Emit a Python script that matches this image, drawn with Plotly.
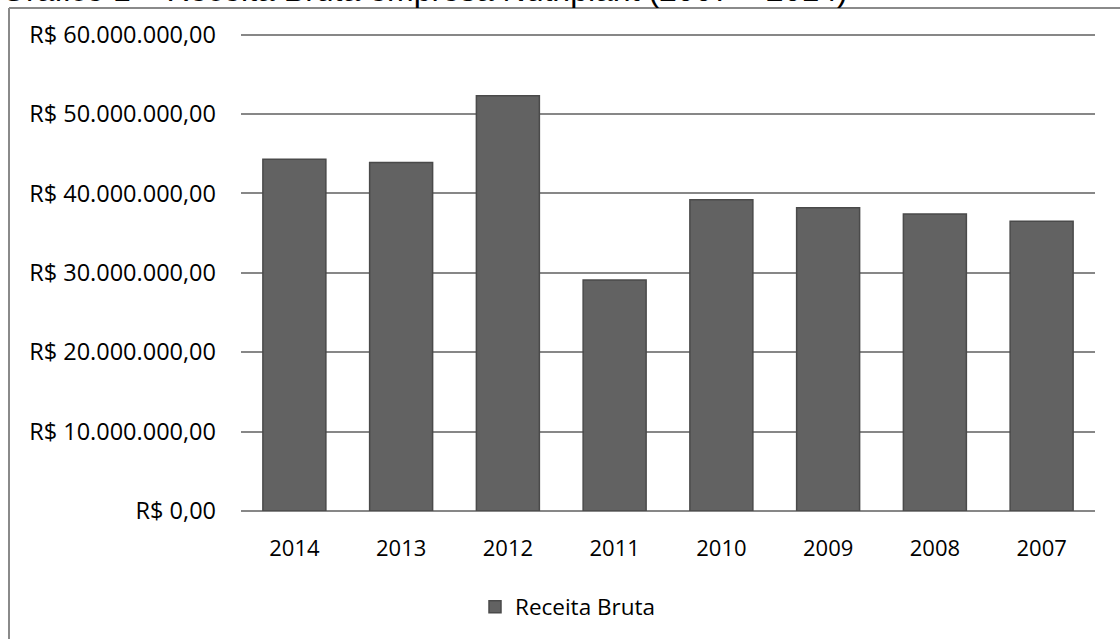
import plotly.graph_objects as go

# Receita bruta anual da empresa (R$)
anos = ["2014", "2013", "2012", "2011", "2010", "2009", "2008", "2007"]
receita_bruta = [44.3e6, 43.9e6, 52.3e6, 29.1e6, 39.2e6, 38.2e6, 37.4e6, 36.5e6]

tick_vals = [0, 10e6, 20e6, 30e6, 40e6, 50e6, 60e6]
tick_text = ["R$ 0,00", "R$ 10.000.000,00", "R$ 20.000.000,00", "R$ 30.000.000,00",
             "R$ 40.000.000,00", "R$ 50.000.000,00", "R$ 60.000.000,00"]

W, H = 1120, 639
L, R, T, B = 241, 25, 33, 127
pw, ph = W - L - R, H - T - B

def px_x(x):
    return (x - L) / pw

def px_y(y):
    return (H - B - y) / ph

fig = go.Figure()
fig.add_trace(go.Bar(
    x=anos, y=receita_bruta, name="Receita Bruta",
    marker=dict(color="#626262", line=dict(color="#4a4a4a", width=1.5)),
))

family = "Open Sans, Noto Sans, sans-serif"
ytick_font = dict(family=family, size=23.5, color="#000000")
xtick_font = dict(family=family, size=22, color="#000000")
legend_font = dict(family=family, size=22.5, color="#000000")

fig.update_layout(
    width=W, height=H,
    margin=dict(l=L, r=R, t=T, b=B),
    paper_bgcolor="white", plot_bgcolor="white",
    font=xtick_font,
    bargap=0.41,
    showlegend=True,
    legend=dict(orientation="h", x=px_x(568), xanchor="center",
                y=px_y(607), yanchor="middle", font=legend_font,
                itemwidth=30, bgcolor="rgba(0,0,0,0)"),
    xaxis=dict(showgrid=False, showline=False, ticks="",
               ticklabelstandoff=22, tickfont=xtick_font, fixedrange=True),
    yaxis=dict(range=[0, 60.2e6], tickvals=tick_vals, ticktext=tick_text,
               showgrid=True, gridcolor="#878787", gridwidth=1.8,
               zeroline=True, zerolinecolor="#878787", zerolinewidth=1.8,
               showline=False, ticks="", ticklabelstandoff=24,
               tickfont=ytick_font, fixedrange=True),
    annotations=[dict(
        text="Gráfico 1 – Receita Bruta empresa Nutriplant (2007 – 2014)",
        xref="paper", yref="paper", x=px_x(-1), y=px_y(10),
        xanchor="left", yanchor="bottom", showarrow=False,
        font=dict(family="Liberation Sans, Arial, sans-serif", size=32, color="#000000"),
    )],
    shapes=[
        dict(type="line", xref="paper", yref="paper",
             x0=px_x(9), x1=px_x(9), y0=px_y(8), y1=px_y(660),
             line=dict(color="#8a8a8a", width=2)),
        dict(type="line", xref="paper", yref="paper",
             x0=px_x(9), x1=px_x(1140), y0=px_y(8), y1=px_y(8),
             line=dict(color="#8a8a8a", width=2)),
    ],
)

fig.write_html("out.html")
